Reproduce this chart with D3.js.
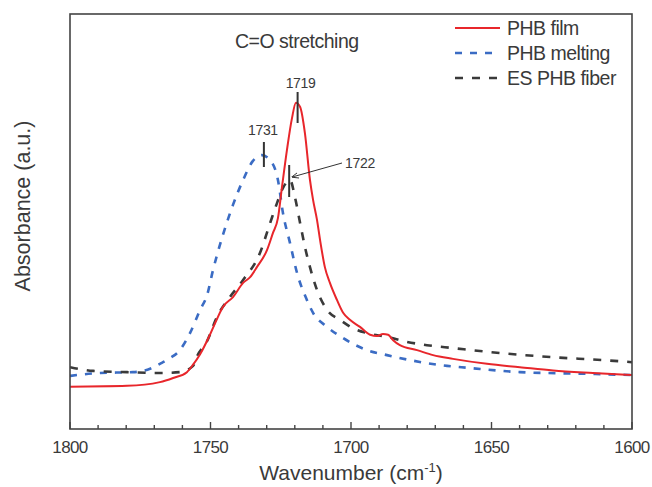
<!DOCTYPE html>
<html><head><meta charset="utf-8">
<script src="https://cdn.jsdelivr.net/npm/d3@7"></script>
<style>
body{margin:0;background:#fff;}
text{font-family:"Liberation Sans",Arial,sans-serif;fill:#3a3a3a;}
</style></head>
<body><svg id="c" width="652" height="487"></svg>
<script>
// wavenumber (cm-1), absorbance (a.u., arbitrary scale)
const filmWn  = [1800,1779.7,1768,1763.3,1758.4,1756.2,1753.7,1750.2,1747.7,1745.6,1742,1738.4,1735.9,1733.5,1729.9,1727.8,1726,1724.6,1722.8,1721,1719.6,1718.1,1716.4,1714.6,1713.5,1712.1,1711,1709.3,1707.5,1705,1702.8,1700.4,1696.8,1693.2,1690.7,1688.6,1686.8,1685,1682.6,1676.5,1670.8,1663.7,1651.6,1639.9,1628.1,1613.9,1600];
const filmAbs = [0.102,0.104,0.113,0.123,0.137,0.155,0.180,0.227,0.265,0.294,0.318,0.352,0.366,0.390,0.431,0.472,0.508,0.581,0.672,0.749,0.786,0.776,0.713,0.600,0.552,0.504,0.455,0.390,0.352,0.311,0.280,0.263,0.246,0.227,0.224,0.229,0.227,0.214,0.202,0.190,0.178,0.169,0.157,0.149,0.141,0.135,0.130];

const meltWn  = [1800,1789.3,1777.6,1771.5,1768,1764.4,1760.9,1757.3,1753.7,1751.2,1749.1,1745.6,1742,1738.4,1734.9,1731.7,1728.8,1726,1724.2,1721.7,1719.2,1715.7,1713.5,1708.5,1702.8,1694.3,1687.2,1679,1668.3,1657.7,1639.9,1616,1600];
const meltAbs = [0.128,0.135,0.137,0.145,0.157,0.171,0.190,0.231,0.287,0.323,0.383,0.467,0.540,0.600,0.646,0.660,0.648,0.600,0.520,0.448,0.376,0.311,0.280,0.246,0.219,0.190,0.178,0.166,0.154,0.147,0.137,0.133,0.130];

const fiberWn  = [1800,1791.8,1779.7,1768,1760.9,1756.2,1754.8,1751.2,1747.7,1743.1,1738.4,1732.4,1728.8,1726.3,1724.2,1721.7,1719.9,1718.1,1716.4,1714.6,1712.1,1708.5,1703.9,1699.3,1694.3,1687.2,1680.1,1673,1663.7,1647,1628.1,1610.3,1600];
const fiberAbs = [0.149,0.140,0.137,0.135,0.137,0.152,0.175,0.212,0.270,0.318,0.359,0.424,0.496,0.545,0.581,0.600,0.557,0.496,0.439,0.390,0.335,0.287,0.263,0.243,0.231,0.222,0.210,0.202,0.195,0.183,0.173,0.166,0.161];

const seriesNames = ["PHB film","PHB melting","ES PHB fiber"];
const xTicks = [1800,1750,1700,1650,1600];
const peakWn = [1719,1731,1722];
const peakLabels = ["1719","1731","1722"];

const svg = d3.select("#c");
const L=70, R=632, T=14, B=429;
const x = d3.scaleLinear().domain([1800,1600]).range([L,R]);
const y = d3.scaleLinear().domain([0,1]).range([B,T]);

svg.append("clipPath").attr("id","clip").append("rect")
  .attr("x",L).attr("y",T).attr("width",R-L).attr("height",B-T);

const colors = ["#e8262b","#3b6cc4","#3a3a3a"];
const dashes = [null,"7,8","8,9"];
const widths = [2,2.6,2.6];
const data = [
  filmWn.map((w,i)=>[w,filmAbs[i]]),
  meltWn.map((w,i)=>[w,meltAbs[i]]),
  fiberWn.map((w,i)=>[w,fiberAbs[i]])
];
const line = d3.line().x(d=>x(d[0])).y(d=>y(d[1])).curve(d3.curveMonotoneX);

[1,2,0].forEach(i=>{
  svg.append("path").attr("clip-path","url(#clip)")
    .attr("d",line(data[i])).attr("fill","none")
    .attr("stroke",colors[i]).attr("stroke-width",widths[i])
    .attr("stroke-dasharray",dashes[i]);
});

// frame
svg.append("rect").attr("x",L).attr("y",T).attr("width",R-L).attr("height",B-T)
  .attr("fill","none").attr("stroke","#444").attr("stroke-width",1.6);

// bottom axis (ticks inward)
const minor = d3.range(1800,1599,-10);
svg.append("g").selectAll("line").data(minor).join("line")
  .attr("x1",d=>x(d)).attr("x2",d=>x(d))
  .attr("y1",B).attr("y2",d=>B-(d%50===0?7:4))
  .attr("stroke","#444").attr("stroke-width",1.4);
svg.append("g").selectAll("text").data(xTicks).join("text")
  .attr("x",d=>x(d)).attr("y",453).attr("text-anchor","middle")
  .attr("font-size",17).attr("letter-spacing","-0.6").text(d=>d);

// axis titles
const xl = svg.append("text").attr("x",351).attr("y",480).attr("text-anchor","middle")
  .attr("font-size",21);
xl.append("tspan").text("Wavenumber (cm");
xl.append("tspan").attr("font-size",13).attr("dy",-8).text("-1");
xl.append("tspan").attr("dy",8).text(")");

svg.append("text").attr("transform","translate(30,206) rotate(-90)")
  .attr("text-anchor","middle").attr("font-size",21.5).text("Absorbance (a.u.)");

// title
svg.append("text").attr("x",235).attr("y",48).attr("font-size",19.5).attr("letter-spacing","-0.5").text("C=O stretching");

// legend
const legY=[28,53,78];
seriesNames.forEach((n,i)=>{
  svg.append("line").attr("x1",455).attr("x2",500).attr("y1",legY[i]).attr("y2",legY[i])
    .attr("stroke",colors[i]).attr("stroke-width",widths[i]).attr("stroke-dasharray",dashes[i]);
  svg.append("text").attr("x",507).attr("y",legY[i]+7).attr("font-size",19.5)
    .attr("letter-spacing","-0.5").text(n);
});

// peak annotations
const markerSpans=[[92,123],[142,167],[165,197]];
peakWn.forEach((w,i)=>{
  svg.append("line").attr("x1",x(w)).attr("x2",x(w))
    .attr("y1",markerSpans[i][0]).attr("y2",markerSpans[i][1])
    .attr("stroke","#333").attr("stroke-width",2);
});
svg.append("text").attr("x",x(peakWn[0])+3).attr("y",88).attr("text-anchor","middle").attr("font-size",14).attr("letter-spacing","-0.3").text(peakLabels[0]);
svg.append("text").attr("x",x(peakWn[1])-1).attr("y",135).attr("text-anchor","middle").attr("font-size",14).attr("letter-spacing","-0.3").text(peakLabels[1]);
svg.append("text").attr("x",345).attr("y",168).attr("font-size",14).attr("letter-spacing","-0.3").text(peakLabels[2]);

svg.append("defs").append("marker").attr("id","arr").attr("viewBox","0 0 10 10")
  .attr("refX",9).attr("refY",5).attr("markerWidth",7).attr("markerHeight",7).attr("orient","auto")
  .append("path").attr("d","M0,1 L10,5 L0,9").attr("fill","none").attr("stroke","#333").attr("stroke-width",1.3);
svg.append("line").attr("x1",342).attr("y1",163).attr("x2",x(peakWn[2])+3).attr("y2",177)
  .attr("stroke","#333").attr("stroke-width",1).attr("marker-end","url(#arr)");
</script></body></html>
